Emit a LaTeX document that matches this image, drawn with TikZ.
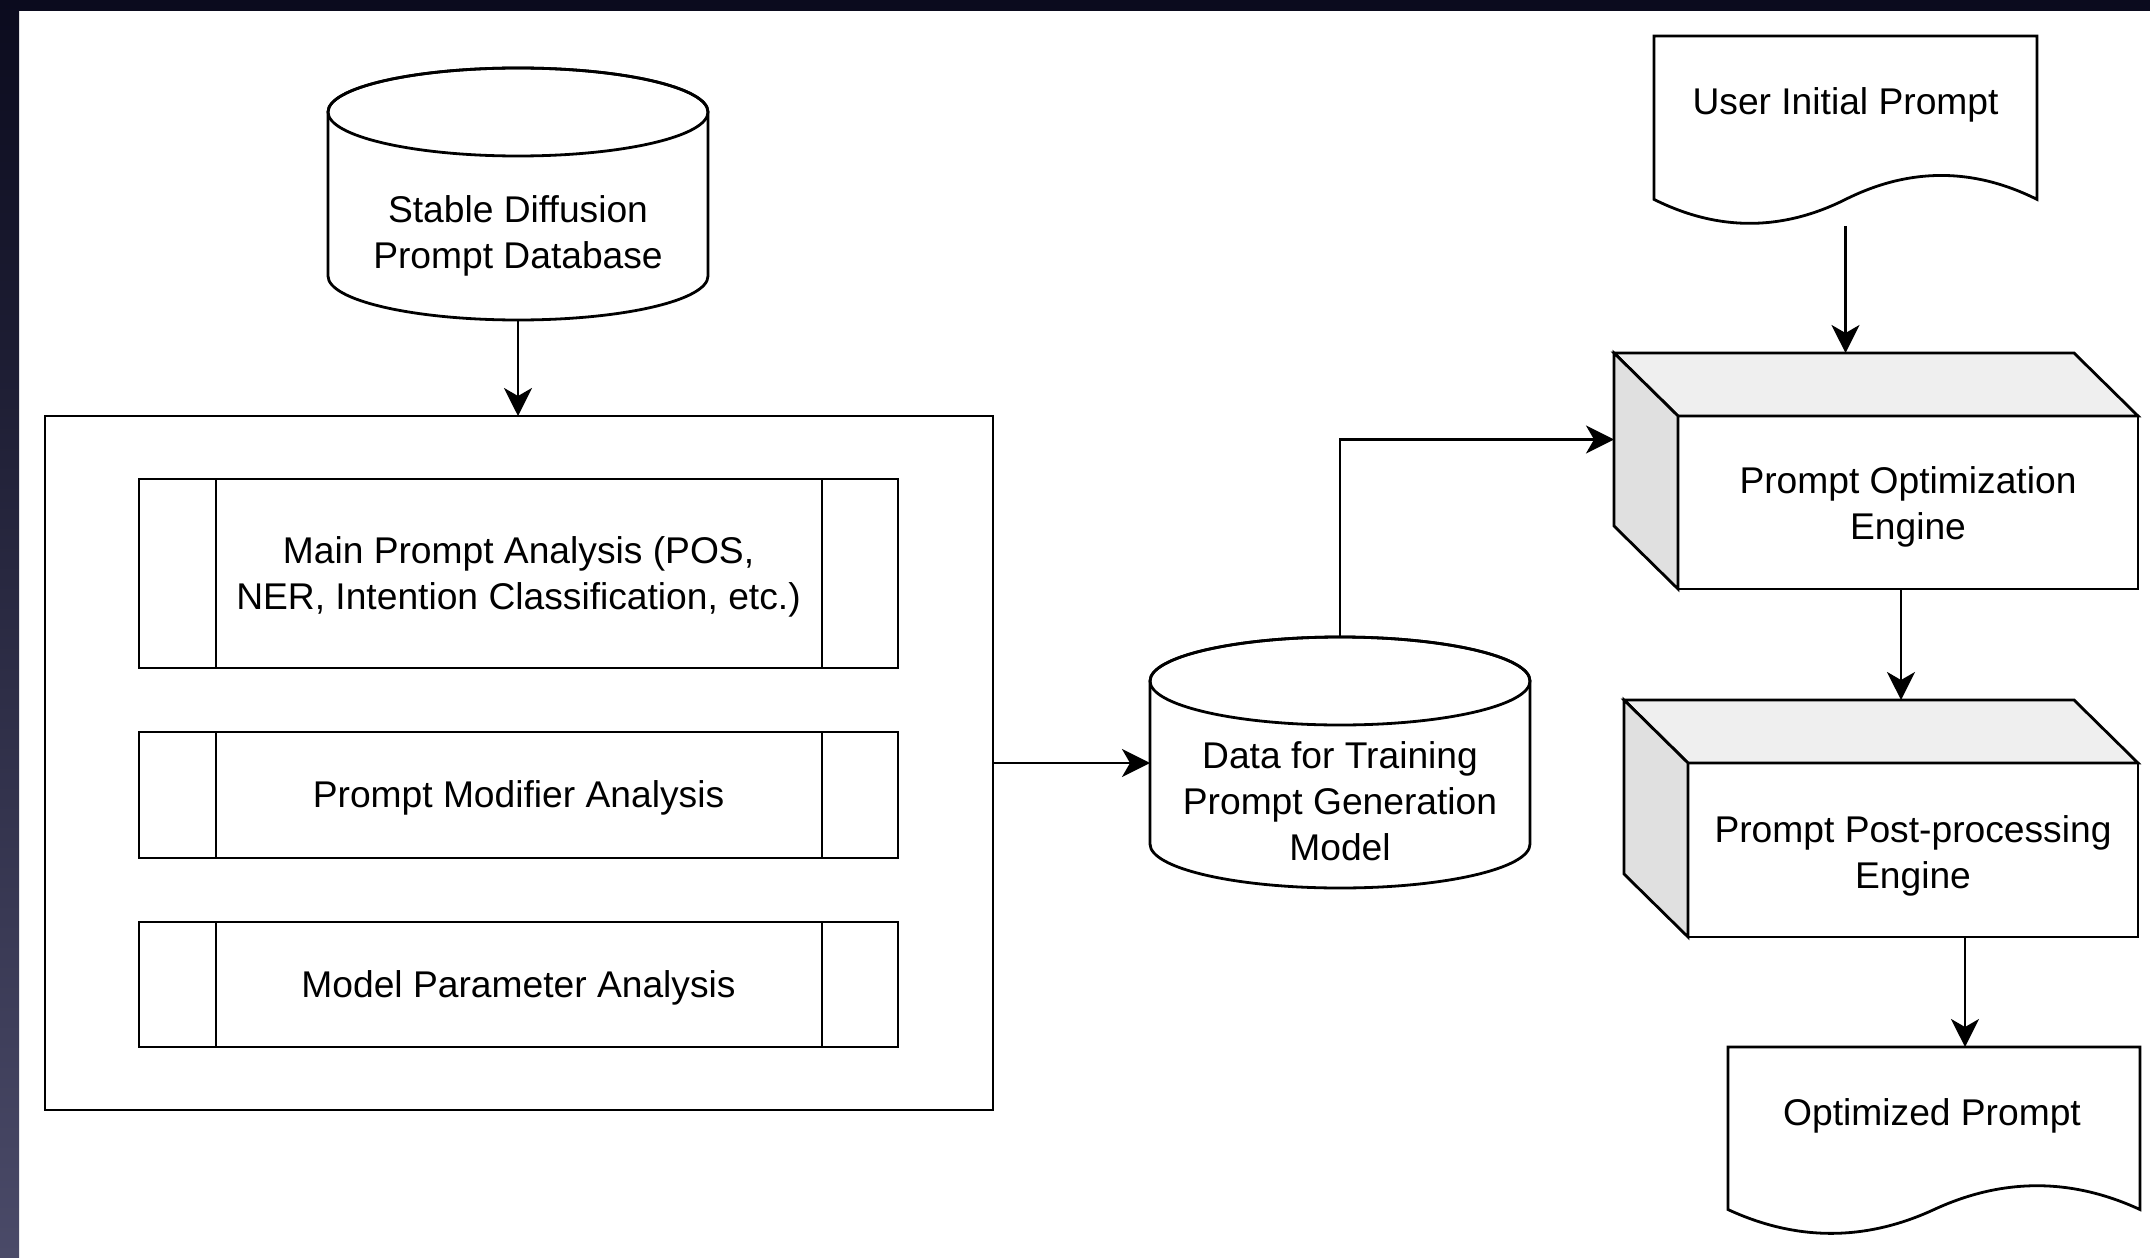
\documentclass[tikz,border=0pt]{standalone}
\usepackage{fontspec}
\setmainfont{Liberation Sans}
\usetikzlibrary{arrows.meta,calc}
\definecolor{topface}{HTML}{EFEFEF}
\definecolor{sideface}{HTML}{E0E0E0}
\definecolor{bordtop}{HTML}{0B0B1E}
\definecolor{bordbot}{HTML}{4A4A68}
\newcommand\mlines[1]{\begin{tabular}[t]{@{}c@{}}#1\end{tabular}}
\newcommand\drawdoc[4]{%
  \draw[lw, fill=white] (#1,#2) -- ({#1+#3},#2) -- ({#1+#3},{#2+#4-0.14*#4})
  .. controls ({#1+5*#3/6},{#2+#4-0.308*#4}) and ({#1+2*#3/3},{#2+#4-0.308*#4}) .. ({#1+#3/2},{#2+#4-0.14*#4})
  .. controls ({#1+#3/3},{#2+#4+0.028*#4}) and ({#1+#3/6},{#2+#4+0.028*#4}) .. (#1,{#2+#4-0.14*#4}) -- cycle;}
\newcommand\drawcyl[5]{% cx, topcenter y, botcenter y, rx(pt), ry(pt)
  \draw[lw, fill=white] ({#1-2*#4},#2) -- ({#1-2*#4},#3)
    arc[start angle=180, end angle=360, x radius=#4pt, y radius=#5pt]
    -- ({#1+2*#4},#2)
    arc[start angle=0, end angle=180, x radius=#4pt, y radius=#5pt] -- cycle;
  \draw[lw] (#1,#2) ellipse[x radius=#4pt, y radius=#5pt];}
\begin{document}
\begin{tikzpicture}[x=0.5pt,y=-0.5pt,
  every node/.style={outer sep=0pt},
  lw/.style={line width=1.4pt, line join=miter},
  lbl/.style={anchor=base, inner sep=0pt, font=\fontsize{18.6}{23}\selectfont},
  frame/.style={draw, lw, fill=white, inner sep=0pt},
  sub/.style={frame, minimum width=379.5pt},
  ghost/.style={inner sep=0pt},
  flow/.style={lw, -{Stealth[length=14pt,width=14pt,inset=4pt]}},
  face/.style={draw, lw},
]
\useasboundingbox (0,0) rectangle (2150,1257);
\fill[white] (0,0) rectangle (2150,1257);
\fill[bordtop] (0,0) rectangle (2150,11);
\shade[top color=bordtop, bottom color=bordbot] (0,0) rectangle (19,1257);

% Stable Diffusion database
\drawcyl{518}{112}{276}{95}{22}
\node[ghost, minimum width=190pt, minimum height=126pt] (db1) at (518,194) {};
\node[lbl] (db1t) at (518,222) {\mlines{Stable Diffusion\\Prompt Database}};

% container with sub-processes
\node[frame, anchor=north west, minimum width=474pt, minimum height=347pt] (cont) at (45,416) {};
\node[sub, minimum height=94.5pt] (s1) at (518.5,573.5) {};
\node[sub, minimum height=63pt] (s2) at (518.5,795) {};
\node[sub, minimum height=62.5pt] (s3) at (518.5,984.5) {};
\foreach \s in {s1,s2,s3} {
  \draw[lw] ($(\s.north west)+(77,0)$) -- ($(\s.south west)+(77,0)$);
  \draw[lw] ($(\s.north east)+(-76,0)$) -- ($(\s.south east)+(-76,0)$);
}
\node[lbl] (s1t) at (518.5,563) {\mlines{Main Prompt Analysis (POS,\\NER, Intention Classification, etc.)}};
\node[lbl] (s2t) at (518.5,807) {Prompt Modifier Analysis};
\node[lbl] (s3t) at (518.5,997) {Model Parameter Analysis};

% training data
\drawcyl{1340}{681}{844}{95}{22}
\node[ghost, minimum width=190pt, minimum height=125.5pt] (db2) at (1340,762.5) {};
\node[lbl] (db2t) at (1340,768) {\mlines{Data for Training\\Prompt Generation\\Model}};

% user prompt document
\drawdoc{1654}{36}{383}{190}
\node[ghost, minimum width=191.5pt, minimum height=95pt] (doc1) at (1845.5,131) {};
\node[lbl] (doc1t) at (1845.5,115) {User Initial Prompt};

% cube 1
\node[frame, minimum width=230pt, minimum height=86.5pt] (cube1) at (1908,502.5) {};
\draw[face, fill=topface] (cube1.north west) -- ++(-64,-63) -- ($(cube1.north east)+(-64,-63)$) -- (cube1.north east) -- cycle;
\draw[face, fill=sideface] (cube1.north west) -- ++(-64,-63) -- ($(cube1.south west)+(-64,-63)$) -- (cube1.south west) -- cycle;
\node[lbl] (cube1t) at (1908,493) {\mlines{Prompt Optimization\\Engine}};

% cube 2
\node[frame, minimum width=225pt, minimum height=87pt] (cube2) at (1913,850) {};
\draw[face, fill=topface] (cube2.north west) -- ++(-64,-63) -- ($(cube2.north east)+(-64,-63)$) -- (cube2.north east) -- cycle;
\draw[face, fill=sideface] (cube2.north west) -- ++(-64,-63) -- ($(cube2.south west)+(-64,-63)$) -- (cube2.south west) -- cycle;
\node[lbl] (cube2t) at (1913,842) {\mlines{Prompt Post-processing\\Engine}};

% optimized prompt document
\drawdoc{1728}{1047}{412}{189}
\node[ghost, minimum width=206pt, minimum height=94.5pt] (doc2) at (1934,1141.5) {};
\node[lbl] (doc2t) at (1932,1125) {Optimized Prompt};

% connectors
\coordinate (c1in) at ($(cube1.west)+(-64,-63)$);
\coordinate (c1top) at ($(cube1.north)+(0,-63)$);
\coordinate (c2top) at ($(cube2.north)+(0,-63)$);
\coordinate (c1out) at ($(cube1.south)+(-7,0)$);
\coordinate (c2out) at ($(cube2.south)+(52,0)$);
\draw[flow] (db1.south) -- (db1.south |- cont.north);
\draw[flow] (cont.east) -- (cont.east -| db2.west);
\draw[flow] (db2.north) |- (c1in);
\draw[flow] (doc1.south) -- (doc1.south |- c1top);
\draw[flow] (c1out) -- (c1out |- c2top);
\draw[flow] (c2out) -- (c2out |- doc2.north);
\end{tikzpicture}
\end{document}
